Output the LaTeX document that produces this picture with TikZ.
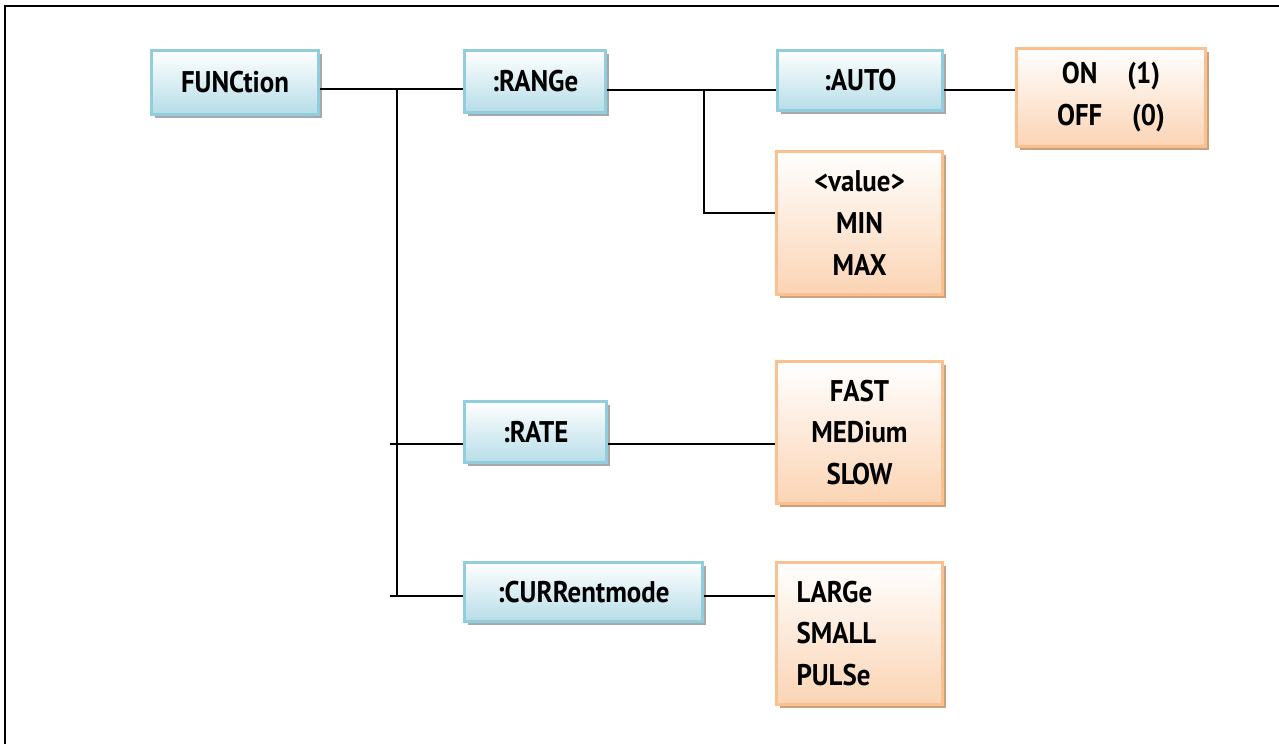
\documentclass[tikz,border=0pt]{standalone}
\usepackage{fontspec}
\setmainfont{PT Sans}[FakeStretch=0.9]
\usetikzlibrary{shadows}

\definecolor{cmdFill}{HTML}{B6DDE8}
\definecolor{cmdLine}{HTML}{92CDDC}
\definecolor{cmdShadow}{HTML}{A3A9AC}
\definecolor{parFill}{HTML}{FBD4B4}
\definecolor{parLine}{HTML}{FAC090}
\definecolor{parShadow}{HTML}{C9A27E}

\begin{document}
\begin{tikzpicture}[
        x=0.02cm, y=-0.02cm,
        cmd/.style={
            rectangle,
            draw=cmdLine,
            line width=1.5pt,
            top color=white,
            bottom color=cmdFill,
            drop shadow={shadow xshift=0.07cm, shadow yshift=-0.07cm, fill=cmdShadow, opacity=1},
            align=center,
            font=\fontsize{17}{23.8}\selectfont\bfseries,
            inner sep=4pt
        },
        par/.style={
            cmd,
            draw=parLine,
            bottom color=parFill,
            drop shadow={shadow xshift=0.07cm, shadow yshift=-0.07cm, fill=parShadow, opacity=1}
        },
        wire/.style={
            line width=1pt
        },
        frame/.style={
            line width=1.7pt
        }
    ]

        \useasboundingbox (0,0) rectangle (1279,744);
        \draw[frame] (5,744) -- (5,6) -- (1279,6);

        \node[cmd, minimum width=3.34cm, minimum height=1.28cm] (fun) at (235,82.5) {FUNCtion};
        \node[cmd, minimum width=2.82cm, minimum height=1.24cm] (range) at (535,81.5) {:RANGe};
        \node[cmd, minimum width=3.30cm, minimum height=1.20cm] (auto) at (860,80.5) {:AUTO};
        \node[par, minimum width=3.78cm, minimum height=1.96cm] (onoff) at (1111,97.5) {ON\quad(1)\\OFF\quad(0)};
        \node[par, minimum width=3.32cm, minimum height=2.86cm] (limits) at (859.5,223) {<value>\\MIN\\MAX};
        \node[cmd, minimum width=2.84cm, minimum height=1.22cm] (rate) at (535.5,432) {:RATE};
        \node[par, minimum width=3.32cm, minimum height=2.84cm] (speed) at (859.5,432.5) {FAST\\MEDium\\SLOW};
        \node[cmd, minimum width=4.76cm, minimum height=1.18cm] (curr) at (583.5,592) {:CURRentmode};
        \node[par, minimum width=3.32cm, minimum height=2.84cm, align=left, text width=2.52cm, inner xsep=0.4cm] (mode) at (859.5,633.5) {LARGe\\SMALL\\PULSe};

        \coordinate (t0) at (397,89);
        \coordinate (t1) at (390,444);
        \coordinate (t2) at (390,596);
        \coordinate (b0) at (704,90);
        \coordinate (b1) at (704,213);

        \draw[wire] (fun.east |- t0) -- (range.west |- t0);
        \draw[wire] (t0) -- (t0 |- t2);
        \draw[wire] (t1) -- (rate.west |- t1);
        \draw[wire] (t2) -- (curr.west |- t2);
        \draw[wire] (range.east |- b0) -- (auto.west |- b0);
        \draw[wire] (b0) -- (b1) -- (limits.west |- b1);
        \draw[wire] (auto.east |- b0) -- (onoff.west |- b0);
        \draw[wire] (rate.east |- t1) -- (speed.west |- t1);
        \draw[wire] (curr.east |- t2) -- (mode.west |- t2);

    \end{tikzpicture}
\end{document}
